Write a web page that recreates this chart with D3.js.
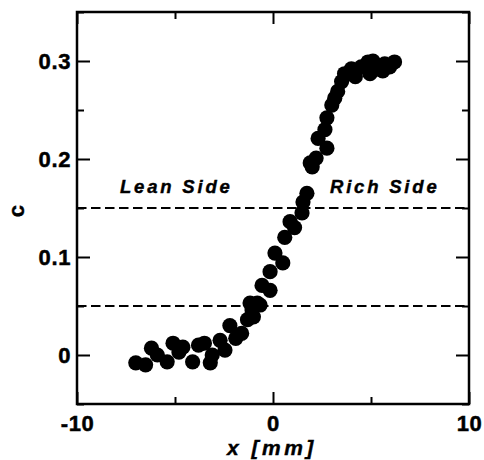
<!DOCTYPE html>
<html>
<head>
<meta charset="utf-8">
<script src="https://cdn.jsdelivr.net/npm/d3@7"></script>
<style>
  html, body { margin: 0; padding: 0; background: #fff; }
  svg { display: block; }
  text { font-family: "Liberation Sans", Arial, sans-serif; font-weight: bold; fill: #000; }
</style>
</head>
<body>
<svg id="chart" width="484" height="460"></svg>
<script>
// Mixture fraction profile across the layer
const xs = [-7.0, -6.5, -6.2, -5.9, -5.4, -5.1, -4.8, -4.6, -4.1, -3.8, -3.5, -3.2, -3.1,
  -2.7, -2.45, -2.2, -1.9, -1.6, -1.3, -1.07, -1.0, -0.8, -1.17, -0.66,
  -0.56, -0.15, -0.15, 0.1, 0.5, 0.6, 0.87, 1.1, 1.48, 1.53, 1.73,
  1.9, 2.0, 2.2, 2.3, 2.75, 2.65, 2.75, 3.0, 3.15, 3.3, 3.5, 3.65,
  4.0, 4.2, 4.5, 4.85, 4.95, 5.1, 5.35, 5.6, 5.7, 5.95, 6.2];
const cs = [-0.008, -0.01, 0.007, 0.0, -0.007, 0.012, 0.003, 0.008, -0.007, 0.01, 0.012, -0.008, 0.0,
  0.015, 0.005, 0.03, 0.017, 0.022, 0.036, 0.046, 0.039, 0.053, 0.053, 0.051,
  0.071, 0.085, 0.066, 0.104, 0.094, 0.12, 0.136, 0.13, 0.145, 0.156, 0.165,
  0.196, 0.192, 0.201, 0.221, 0.211, 0.23, 0.242, 0.255, 0.262, 0.269, 0.279, 0.287,
  0.292, 0.284, 0.294, 0.299, 0.287, 0.3, 0.292, 0.29, 0.297, 0.294, 0.299];

const xMajor = [-10, 0, 10];
const xMinor = [-5, 5];
const yMajor = [0, 0.1, 0.2, 0.3];
const yMinor = [-0.05, 0.05, 0.15, 0.25, 0.35];
const refLevels = [0.05, 0.15];

const svg = d3.select("#chart");
const L = 77, R = 469, T = 12, B = 404;

const x = d3.scaleLinear().domain([-10, 10]).range([L, R]);
const y = d3.scaleLinear().domain([-0.05, 0.35]).range([B, T]);

// reference levels
svg.selectAll("line.ref").data(refLevels).join("line")
  .attr("class", "ref")
  .attr("x1", L).attr("x2", R)
  .attr("y1", d => y(d)).attr("y2", d => y(d))
  .attr("stroke", "#000").attr("stroke-width", 2)
  .attr("stroke-dasharray", "9.5,4.5");

// data points
svg.append("g").selectAll("circle").data(xs.map((v, i) => [v, cs[i]])).join("circle")
  .attr("cx", d => x(d[0])).attr("cy", d => y(d[1])).attr("r", 7.6)
  .attr("fill", "#000");

// axes: ticks point inward on all four sides; plain hyphen for negatives
const fmt = d => d === 0 ? "0" : (Math.abs(d) < 1 ? d.toFixed(1) : String(d));
function styleAxis(g) {
  g.select(".domain").remove();
  g.selectAll(".tick line").attr("stroke", "#000").attr("stroke-width", 2);
  g.selectAll(".tick text").attr("font-size", 22).attr("letter-spacing", 0.6)
    .attr("stroke", "#000").attr("stroke-width", 0.5);
}

svg.append("g").attr("transform", `translate(0,${B})`)
  .call(d3.axisBottom(x).tickValues(xMajor).tickSizeInner(-12).tickPadding(11).tickFormat(fmt))
  .call(styleAxis);
svg.append("g").attr("transform", `translate(0,${B})`)
  .call(d3.axisBottom(x).tickValues(xMinor).tickSizeInner(-7).tickFormat("")).call(styleAxis);
svg.append("g").attr("transform", `translate(0,${T})`)
  .call(d3.axisTop(x).tickValues(xMajor).tickSizeInner(-12).tickFormat("")).call(styleAxis);
svg.append("g").attr("transform", `translate(0,${T})`)
  .call(d3.axisTop(x).tickValues(xMinor).tickSizeInner(-7).tickFormat("")).call(styleAxis);

svg.append("g").attr("transform", `translate(${L},0)`)
  .call(d3.axisLeft(y).tickValues(yMajor).tickSizeInner(-13).tickPadding(6).tickFormat(fmt))
  .call(styleAxis);
svg.append("g").attr("transform", `translate(${L},0)`)
  .call(d3.axisLeft(y).tickValues(yMinor).tickSizeInner(-7).tickFormat("")).call(styleAxis);
svg.append("g").attr("transform", `translate(${R},0)`)
  .call(d3.axisRight(y).tickValues(yMajor).tickSizeInner(-13).tickFormat("")).call(styleAxis);
svg.append("g").attr("transform", `translate(${R},0)`)
  .call(d3.axisRight(y).tickValues(yMinor).tickSizeInner(-7).tickFormat("")).call(styleAxis);

// frame
svg.append("rect").attr("x", L).attr("y", T).attr("width", R - L).attr("height", B - T)
  .attr("fill", "none").attr("stroke", "#000").attr("stroke-width", 2.5);

// region labels
svg.append("text").attr("x", 120).attr("y", 193).attr("font-size", 18.5)
  .attr("font-style", "italic").attr("letter-spacing", 2.8)
  .attr("stroke", "#000").attr("stroke-width", 0.4).text("Lean Side");
svg.append("text").attr("x", 330).attr("y", 193).attr("font-size", 18.5)
  .attr("font-style", "italic").attr("letter-spacing", 2.8)
  .attr("stroke", "#000").attr("stroke-width", 0.4).text("Rich Side");

// axis titles
svg.append("text").attr("x", 227).attr("y", 455)
  .attr("font-size", 21).attr("font-style", "italic").attr("letter-spacing", 3.5)
  .attr("stroke", "#000").attr("stroke-width", 0.4)
  .text("x [mm]");
svg.append("text").attr("transform", "translate(24,211) rotate(-90)")
  .attr("text-anchor", "middle").attr("font-size", 22)
  .attr("stroke", "#000").attr("stroke-width", 0.4).text("c");
</script>
</body>
</html>
